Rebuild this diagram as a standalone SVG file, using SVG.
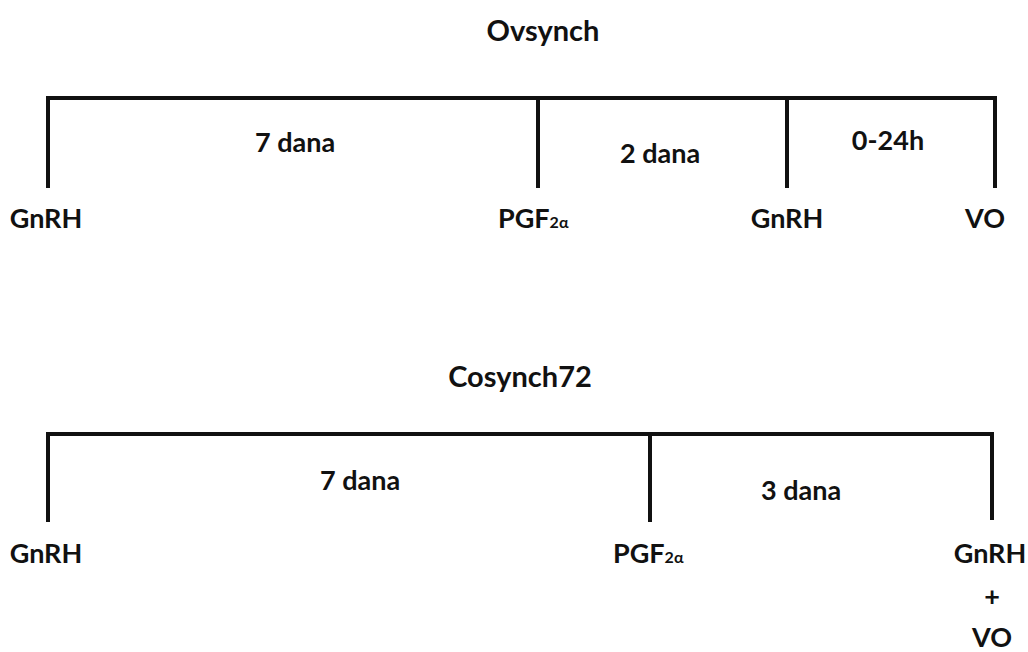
<svg xmlns="http://www.w3.org/2000/svg" width="1028" height="652" viewBox="0 0 1028 652">
  <style>
    .t { font-family: Lato, "Open Sans", "Liberation Sans", sans-serif; font-weight: 700; font-size: 27px; fill: #111; }
    .m { text-anchor: middle; }
    .title { font-size: 29px; }
    .sub { font-size: 16px; }
    .bar { fill: none; stroke: #111; stroke-width: 4; stroke-linejoin: miter; stroke-linecap: square; }
  </style>
  <rect width="1028" height="652" fill="#fff"/>

  <!-- Ovsynch timeline -->
  <text id="title-ovsynch" class="t m title" x="543" y="41">Ovsynch</text>
  <g id="connectors-ovsynch">
    <path class="bar" d="M48 186 V98 H995 V186"/>
    <path class="bar" d="M538 98 V186"/>
    <path class="bar" d="M787 98 V186"/>
  </g>
  <text id="int-7d" class="t m" x="295" y="152">7 dana</text>
  <text id="int-2d" class="t m" x="660" y="163">2 dana</text>
  <text id="int-24h" class="t m" x="888" y="150">0-24h</text>
  <g id="ov-gnrh1"><text class="t m" x="46" y="228">GnRH</text></g>
  <g id="ov-pgf"><text class="t" x="498" y="228">PGF<tspan class="sub">2α</tspan></text></g>
  <g id="ov-gnrh2"><text class="t m" x="787" y="228">GnRH</text></g>
  <g id="ov-vo"><text class="t m" x="985" y="228">VO</text></g>

  <!-- Cosynch72 timeline -->
  <text id="title-cosynch" class="t m title" x="520" y="387">Cosynch72</text>
  <g id="connectors-cosynch">
    <path class="bar" d="M48 520 V434 H992 V518"/>
    <path class="bar" d="M650 434 V520"/>
  </g>
  <text id="int-7d-b" class="t m" x="360" y="490">7 dana</text>
  <text id="int-3d" class="t m" x="801" y="500">3 dana</text>
  <g id="co-gnrh1"><text class="t m" x="46" y="563">GnRH</text></g>
  <g id="co-pgf"><text class="t" x="613" y="563">PGF<tspan class="sub">2α</tspan></text></g>
  <g id="co-gnrh-vo">
    <text class="t m" x="990" y="563">GnRH</text>
    <text class="t m" x="992" y="606" font-size="30">+</text>
    <text class="t m" x="992" y="647">VO</text>
  </g>
</svg>
